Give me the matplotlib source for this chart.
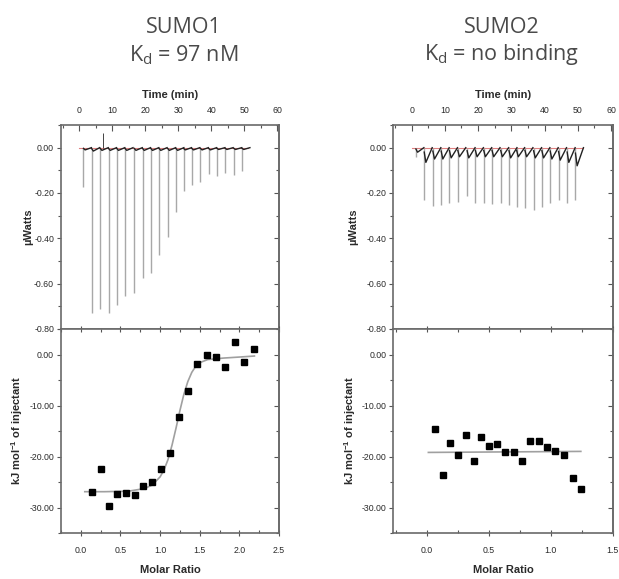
import matplotlib
matplotlib.use("Agg")
import matplotlib.pyplot as plt
from matplotlib.ticker import MultipleLocator, FormatStrFormatter, NullFormatter

plt.rcParams['font.family'] = ['Liberation Sans', 'DejaVu Sans']
plt.rcParams['mathtext.fontset'] = 'custom'
plt.rcParams['mathtext.rm'] = 'Open Sans'
plt.rcParams['mathtext.it'] = 'Open Sans'
plt.rcParams['mathtext.bf'] = 'Liberation Sans:bold'

# ---------------- data ----------------
inj_times = [1.3, 3.8, 6.4, 8.9, 11.4, 13.9, 16.7, 19.2, 21.7, 24.2,
             26.8, 29.3, 31.6, 34.1, 36.7, 39.2, 41.7, 44.2, 46.8, 49.3]
sumo1_peaks = [-0.174, -0.730, -0.710, -0.730, -0.695, -0.655, -0.643, -0.577, -0.555, -0.475,
               -0.394, -0.284, -0.192, -0.163, -0.152, -0.116, -0.127, -0.113, -0.120, -0.104]
sumo1_tails = [-0.010, -0.015, -0.012, -0.012, -0.012, -0.012, -0.012, -0.012, -0.012, -0.012,
               -0.012, -0.012, -0.010, -0.010, -0.010, -0.010, -0.008, -0.008, -0.008, -0.008]
sumo1_glitch_t = [7.2]
sumo1_glitch_v = [0.066]

sumo2_peaks = [-0.040, -0.233, -0.259, -0.255, -0.246, -0.240, -0.215, -0.245, -0.246, -0.250,
               -0.246, -0.255, -0.262, -0.264, -0.273, -0.262, -0.246, -0.233, -0.246, -0.233]
sumo2_tails = [-0.020, -0.065, -0.050, -0.050, -0.045, -0.040, -0.045, -0.040, -0.040, -0.040,
               -0.040, -0.045, -0.040, -0.040, -0.045, -0.045, -0.050, -0.055, -0.065, -0.080]

sumo1_ratio = [0.146, 0.256, 0.352, 0.461, 0.570, 0.680, 0.789, 0.900, 1.011, 1.125,
               1.234, 1.351, 1.469, 1.586, 1.708, 1.820, 1.947, 2.060, 2.190]
sumo1_heat = [-26.9, -22.5, -29.8, -27.4, -27.2, -27.5, -25.8, -25.0, -22.4, -19.3,
              -12.3, -7.2, -1.9, -0.1, -0.5, -2.4, 2.4, -1.4, 1.1]
sumo1_fit_x = [0.05, 0.3, 0.6, 0.8, 0.9, 1.0, 1.05, 1.1, 1.15, 1.2, 1.25, 1.3, 1.35,
               1.4, 1.45, 1.5, 1.6, 1.8, 2.0, 2.19]
sumo1_fit_y = [-26.9, -26.9, -26.8, -26.3, -25.6, -24.0, -22.6, -20.6, -17.8, -14.5, -11.0,
               -7.8, -5.3, -3.5, -2.3, -1.6, -1.0, -0.7, -0.5, -0.3]

sumo2_ratio = [0.067, 0.130, 0.189, 0.251, 0.316, 0.378, 0.440, 0.503, 0.570, 0.635,
               0.700, 0.767, 0.835, 0.903, 0.970, 1.038, 1.105, 1.176, 1.246]
sumo2_heat = [-14.6, -23.6, -17.3, -19.7, -15.8, -20.8, -16.1, -17.9, -17.6, -19.1,
              -19.1, -20.9, -16.9, -16.9, -18.2, -18.9, -19.8, -24.2, -26.4]
sumo2_fit_x = [0.013, 1.243]
sumo2_fit_y = [-19.2, -19.0]

titles = ["SUMO1\nK$_\\mathrm{d}$ = 97 nM", "SUMO2\nK$_\\mathrm{d}$ = no binding"]

# ---------------- figure ----------------
W, H = 619, 579
fig = plt.figure(figsize=(W / 100, H / 100), dpi=100)

spine_col = '#6a6a6a'
tick_col = '#555555'
txt_col = '#2a2a2a'


def fx(px):
    return px / W


def fy(py):
    return 1 - py / H


panels = [
    dict(left=61, right=279, peaks=sumo1_peaks, tails=sumo1_tails, ratio=sumo1_ratio,
         heat=sumo1_heat, fitx=sumo1_fit_x, fity=sumo1_fit_y, xlim=(-0.25, 2.5),
         title_x=184, ylab_x=28, ylab2_x=17, glitch=True, base_end=51),
    dict(left=393.3, right=612.7, peaks=sumo2_peaks, tails=sumo2_tails, ratio=sumo2_ratio,
         heat=sumo2_heat, fitx=sumo2_fit_x, fity=sumo2_fit_y, xlim=(-0.27, 1.5),
         title_x=502, ylab_x=353, ylab2_x=350, glitch=False, base_end=51.5),
]

top_px, mid_px, bot_px = 125, 329, 533


def right_ticks(ax, major, minor):
    sec = ax.secondary_yaxis('right')
    sec.yaxis.set_major_locator(MultipleLocator(major))
    sec.yaxis.set_minor_locator(MultipleLocator(minor))
    sec.yaxis.set_major_formatter(NullFormatter())
    sec.tick_params(axis='y', which='major', direction='in', length=3.5, width=0.8,
                    colors=tick_col)
    sec.tick_params(axis='y', which='minor', direction='in', length=2, width=0.8,
                    colors=tick_col)
    sec.spines['right'].set_color(spine_col)
    sec.spines['right'].set_linewidth(1.2)


for i, p in enumerate(panels):
    w = fx(p['right'] - p['left'])
    ax1 = fig.add_axes([fx(p['left']), fy(mid_px), w, (mid_px - top_px) / H])
    ax2 = fig.add_axes([fx(p['left']), fy(bot_px), w, (bot_px - mid_px) / H])

    # ---- thermogram ----
    ax1.plot([0, p['base_end']], [0, 0], color='#e08080', lw=0.8, zorder=1)
    ax1.vlines(inj_times, p['peaks'], 0, color='#a8a8a8', lw=1.0, zorder=2)
    for t, pk, tl in zip(inj_times, p['peaks'], p['tails']):
        ax1.plot([t, t + 0.5, t + 2.4], [tl * 0.3, tl, 0.0], color='#222222', lw=1.0, zorder=3)
    if p['glitch']:
        ax1.vlines(sumo1_glitch_t, 0, sumo1_glitch_v, color='#444444', lw=0.7, zorder=3)
    ax1.set_xlim(-5.5, 60.5)
    ax1.set_ylim(-0.8, 0.1)
    ax1.xaxis.set_ticks_position('top')
    ax1.xaxis.set_label_position('top')
    ax1.xaxis.set_major_locator(MultipleLocator(10))
    ax1.xaxis.set_minor_locator(MultipleLocator(5))
    ax1.xaxis.set_major_formatter(FormatStrFormatter('%d'))
    ax1.yaxis.set_major_locator(MultipleLocator(0.2))
    ax1.yaxis.set_minor_locator(MultipleLocator(0.1))
    ax1.yaxis.set_major_formatter(FormatStrFormatter('%.2f'))
    ax1.set_xlabel('Time (min)', fontsize=8, color=txt_col, labelpad=6, fontweight='bold')

    # ---- binding isotherm ----
    ax2.plot(p['fitx'], p['fity'], color='#a0a0a0', lw=1.2, zorder=2)
    ax2.plot(p['ratio'], p['heat'], 's', color='black', ms=4.5, zorder=3)
    ax2.set_xlim(*p['xlim'])
    ax2.set_ylim(-35, 5)
    ax2.xaxis.set_major_locator(MultipleLocator(0.5))
    ax2.xaxis.set_minor_locator(MultipleLocator(0.25))
    ax2.xaxis.set_major_formatter(FormatStrFormatter('%.1f'))
    ax2.yaxis.set_major_locator(MultipleLocator(10))
    ax2.yaxis.set_minor_locator(MultipleLocator(5))
    ax2.yaxis.set_major_formatter(FormatStrFormatter('%.2f'))
    ax2.set_xlabel('Molar Ratio', fontsize=8, color=txt_col, labelpad=7, fontweight='bold')

    for ax in (ax1, ax2):
        for s in ax.spines.values():
            s.set_color(spine_col)
            s.set_linewidth(1.2)
        ax.tick_params(axis='both', which='both', colors=tick_col, labelcolor=txt_col,
                       labelsize=6.3, width=0.8)
        ax.tick_params(axis='y', which='major', direction='out', length=3, pad=2,
                       left=True, right=False)
        ax.tick_params(axis='y', which='minor', direction='out', length=2, left=True, right=False)

    right_ticks(ax1, 0.2, 0.1)
    right_ticks(ax2, 10, 5)

    ax1.tick_params(axis='x', which='major', direction='in', length=4, pad=7, top=True, bottom=False)
    ax1.tick_params(axis='x', which='minor', direction='in', length=2.5, top=True, bottom=False)
    ax2.tick_params(axis='x', which='major', direction='inout', length=5, pad=7, top=True, bottom=True)
    ax2.tick_params(axis='x', which='minor', direction='in', length=2.5, top=True, bottom=True)

    # vertical axis labels
    fig.text(fx(p['ylab_x']), fy((top_px + mid_px) / 2), 'µWatts', rotation=90,
             ha='center', va='center', fontsize=8, color=txt_col, fontweight='bold')
    fig.text(fx(p['ylab2_x']), fy((mid_px + bot_px) / 2), 'kJ mol$^{\\mathbf{-1}}$ of injectant',
             rotation=90, ha='center', va='center', fontsize=8, color=txt_col, fontweight='bold')

    # titles
    fig.text(fx(p['title_x']), fy(42), titles[i], ha='center', va='center',
             fontsize=15.5, color='#4a4a4a', family='Open Sans', linespacing=1.25)

fig.savefig('out.png', dpi=100)
